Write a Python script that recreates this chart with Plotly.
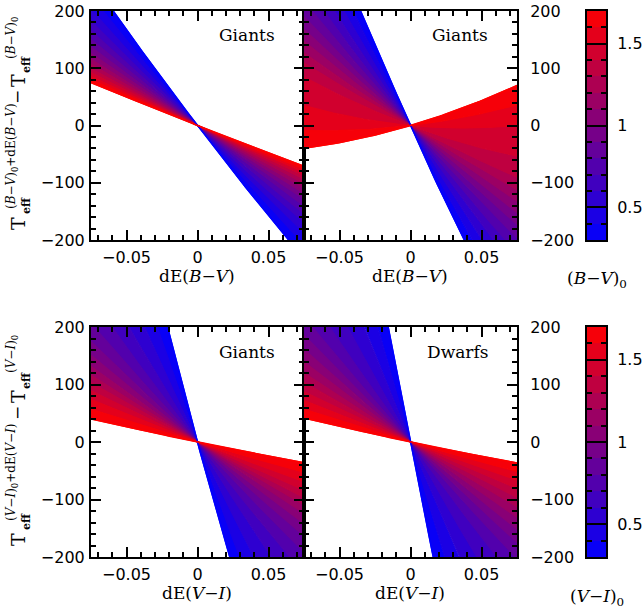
import numpy as np
import plotly.graph_objects as go

# colour index nodes (B-V)_0 or (V-I)_0
color_nodes = [0.3, 0.4, 0.5, 0.6, 0.7, 0.8, 0.9, 1.0, 1.1, 1.2, 1.3, 1.4, 1.5, 1.6, 1.7]

# per-colour linear (K/mag) and quadratic (K/mag^2) response of Teff to dE
giants_bv_a_slope = [-3248, -2896, -2598, -2344, -2125, -1936, -1771, -1626, -1498, -1385, -1284, -1194, -1113, -1040, -973]
giants_bv_a_curv = [1917, 1614, 1372, 1175, 1015, 882, 772, 679, 601, 534, 477, 427, 384, 347, 315]

giants_bv_b_slope = [-5527, -4780, -4130, -3580, -3130, -2750, -2420, -2130, -1860, -1590, -1330, -920, -230, 300, 733]
giants_bv_b_curv = [4411, 3400, 2900, 2500, 2100, 1800, 1550, 1400, 1350, 1350, 1700, 2800, 3100, 2400, 2667]

giants_vi_slope = [-9300, -6900, -5200, -4000, -3200, -2650, -2250, -1950, -1700, -1500, -1330, -1150, -950, -730, -507]
giants_vi_curv = [7000, 5000, 3500, 2500, 1800, 1300, 1000, 800, 700, 600, 550, 500, 450, 400, 356]

dwarfs_vi_slope = [-12600, -8500, -6000, -4400, -3400, -2800, -2400, -2080, -1800, -1550, -1330, -1120, -920, -720, -520]
dwarfs_vi_curv = [6000, 4500, 3200, 2300, 1700, 1250, 1000, 850, 750, 680, 620, 570, 530, 490, 460]

panel_labels = ["Giants", "Giants", "Giants", "Dwarfs"]
x_tick_vals = [-0.05, 0, 0.05]
y_tick_vals = [-200, -100, 0, 100, 200]
cbar_tick_vals = [0.5, 1, 1.5]

W, H = 644, 613
def px(x):
    return x / W
def py(y):
    return 1 - y / H

CMIN, CMAX = 0.3, 1.7
def rgb(c):
    f = (c - CMIN) / (CMAX - CMIN)
    f = min(max(f, 0), 1)
    return "rgb(%d,0,%d)" % (round(255 * f), round(255 * (1 - f)))

panels = [
    (giants_bv_a_slope, giants_bv_a_curv),
    (giants_bv_b_slope, giants_bv_b_curv),
    (giants_vi_slope, giants_vi_curv),
    (dwarfs_vi_slope, dwarfs_vi_curv),
]

fig = go.Figure()
de = np.linspace(-0.075, 0.075, 81)
for k, (s, q) in enumerate(panels):
    xa = "x" if k == 0 else "x%d" % (k + 1)
    ya = "y" if k == 0 else "y%d" % (k + 1)
    for i in range(len(color_nodes) - 1):
        y1 = s[i] * de + q[i] * de ** 2
        y2 = s[i + 1] * de + q[i + 1] * de ** 2
        xs = np.concatenate([de, de[::-1]])
        ys = np.concatenate([y1, y2[::-1]])
        col = rgb((color_nodes[i] + color_nodes[i + 1]) / 2)
        fig.add_trace(go.Scatter(x=xs, y=ys, mode="lines", fill="toself",
                                 fillcolor=col, line=dict(color=col, width=1.2),
                                 hoverinfo="skip", showlegend=False,
                                 xaxis=xa, yaxis=ya))
    for j in (0, len(color_nodes) - 1):
        fig.add_trace(go.Scatter(x=de, y=s[j] * de + q[j] * de ** 2, mode="lines",
                                 line=dict(color=rgb(color_nodes[j]), width=1.5),
                                 hoverinfo="skip", showlegend=False,
                                 xaxis=xa, yaxis=ya))

# colour bars (as heatmaps)
cb_z = [[(color_nodes[i] + color_nodes[i + 1]) / 2] for i in range(len(color_nodes) - 1)]
for k, (xa, ya) in enumerate([("x5", "y5"), ("x6", "y6")]):
    fig.add_trace(go.Heatmap(z=cb_z, x=[0, 1], y=color_nodes,
                             colorscale=[[0, "rgb(0,0,255)"], [1, "rgb(255,0,0)"]],
                             zmin=CMIN, zmax=CMAX, showscale=False, hoverinfo="skip",
                             xaxis=xa, yaxis=ya))

tickfont = dict(family="DejaVu Sans", size=16, color="black")
xdom_l = [px(91), px(304)]
xdom_r = [px(304), px(517)]
ydom_t = [py(240), py(11)]
ydom_b = [py(557), py(327)]
xdom_cb = [px(587), px(606)]

def xax(dom, anchor):
    return dict(domain=dom, anchor=anchor, range=[-0.075, 0.075], tickvals=x_tick_vals,
                ticks="inside", ticklen=10, tickwidth=1.5, tickcolor="black",
                minor=dict(dtick=0.01, tick0=0, ticks="inside", ticklen=5, tickwidth=1.5, tickcolor="black"),
                showline=True, linewidth=2, linecolor="black", mirror="ticks",
                showgrid=False, zeroline=False, tickfont=tickfont, ticklabelstandoff=2,
                automargin=False)

def yax(dom, anchor, side):
    return dict(domain=dom, anchor=anchor, range=[-200, 200], tickvals=y_tick_vals,
                ticks="inside", ticklen=10, tickwidth=1.5, tickcolor="black", side=side,
                minor=dict(dtick=20, tick0=0, ticks="inside", ticklen=5, tickwidth=1.5, tickcolor="black"),
                showline=True, linewidth=2, linecolor="black", mirror="ticks",
                showgrid=False, zeroline=False, tickfont=tickfont,
                ticklabelstandoff=(1 if side == "left" else 8), automargin=False)

def cbx(dom, anchor):
    return dict(domain=dom, anchor=anchor, range=[0, 1], showticklabels=False, ticks="",
                showline=True, linewidth=2, linecolor="black", mirror=True,
                showgrid=False, zeroline=False, automargin=False)

def cby(dom, anchor):
    return dict(domain=dom, anchor=anchor, range=[CMIN, CMAX], tickvals=cbar_tick_vals, side="right",
                ticks="inside", ticklen=10, tickwidth=1.5, tickcolor="black",
                minor=dict(dtick=0.1, tick0=0.3, ticks="inside", ticklen=5, tickwidth=1.5, tickcolor="black"),
                showline=True, linewidth=2, linecolor="black", mirror="ticks",
                showgrid=False, zeroline=False, tickfont=tickfont, ticklabelstandoff=6,
                automargin=False)

fig.update_layout(
    width=W, height=H, margin=dict(l=0, r=0, t=0, b=0, autoexpand=False),
    paper_bgcolor="white", plot_bgcolor="white", showlegend=False,
    xaxis=xax(xdom_l, "y"), yaxis=yax(ydom_t, "x", "left"),
    xaxis2=xax(xdom_r, "y2"), yaxis2=yax(ydom_t, "x2", "right"),
    xaxis3=xax(xdom_l, "y3"), yaxis3=yax(ydom_b, "x3", "left"),
    xaxis4=xax(xdom_r, "y4"), yaxis4=yax(ydom_b, "x4", "right"),
    xaxis5=cbx(xdom_cb, "y5"), yaxis5=cby(ydom_t, "x5"),
    xaxis6=cbx(xdom_cb, "y6"), yaxis6=cby(ydom_b, "x6"),
)

serif = "DejaVu Serif"
ann = []
def add(text, x, y, size, angle=0, xanchor="center"):
    ann.append(dict(text=text, x=px(x), y=py(y), xref="paper", yref="paper", showarrow=False,
                    textangle=angle, xanchor=xanchor, yanchor="middle",
                    font=dict(family=serif, size=size, color="black")))

# panel labels
add(panel_labels[0], 277, 35, 17, xanchor="right")
add(panel_labels[1], 490, 35, 17, xanchor="right")
add(panel_labels[2], 277, 352, 17, xanchor="right")
add(panel_labels[3], 490, 352, 17, xanchor="right")

# x axis titles
bv = "(<i>B</i>−<i>V</i>)"
vi = "(<i>V</i>−<i>I</i>)"
add("dE" + bv, 197, 276, 17)
add("dE" + bv, 410, 276, 17)
add("dE" + vi, 197, 593, 17)
add("dE" + vi, 410, 593, 17)

# colour bar titles
add(bv + "<sub>0</sub>", 597, 280, 17)
add(vi + "<sub>0</sub>", 597, 597, 17)

# y axis titles (stacked super/subscripts)
for off, col in ((0, bv), (316, vi)):
    add("T", 18, 224 + off, 19, angle=-90)
    add("<b>eff</b>", 26, 206 + off, 11, angle=-90)
    add(col + "<sub>0</sub>+dE" + col, 12, 156 + off, 12, angle=-90)
    add("−", 17, 97 + off, 17, angle=-90)
    add("T", 18, 81 + off, 19, angle=-90)
    add("<b>eff</b>", 26, 65 + off, 11, angle=-90)
    add(col + "<sub>0</sub>", 12, 38 + off, 12, angle=-90)

fig.update_layout(annotations=ann)
fig.write_html("out.html")
